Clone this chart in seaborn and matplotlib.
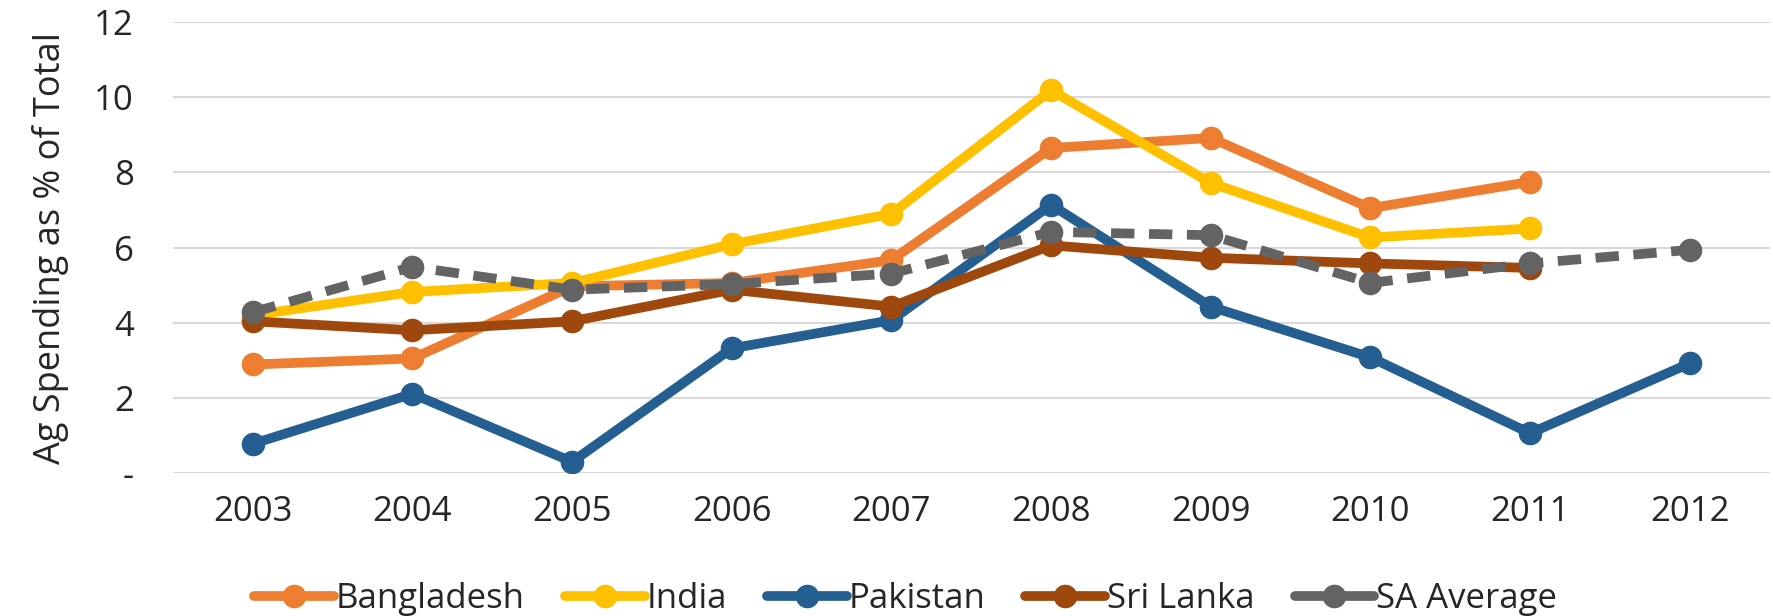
import pandas as pd
import numpy as np
import seaborn as sns
import matplotlib.pyplot as plt
from matplotlib.lines import Line2D

years = [2003, 2004, 2005, 2006, 2007, 2008, 2009, 2010, 2011, 2012]
bangladesh = [2.89, 3.05, 4.97, 5.06, 5.67, 8.65, 8.92, 7.05, 7.75, np.nan]
india = [4.2, 4.82, 5.06, 6.09, 6.9, 10.19, 7.72, 6.27, 6.51, np.nan]
pakistan = [0.78, 2.11, 0.30, 3.32, 4.07, 7.14, 4.43, 3.08, 1.06, 2.92]
sri_lanka = [4.04, 3.8, 4.04, 4.88, 4.43, 6.06, 5.73, 5.58, 5.46, np.nan]
sa_average = [4.28, 5.49, 4.88, 5.03, 5.31, 6.42, 6.33, 5.06, 5.58, 5.94]

series = {
    "Bangladesh": bangladesh,
    "India": india,
    "Pakistan": pakistan,
    "Sri Lanka": sri_lanka,
    "SA Average": sa_average,
}
colors = {
    "Bangladesh": "#ED7D31",
    "India": "#FFC000",
    "Pakistan": "#255E91",
    "Sri Lanka": "#9E480E",
    "SA Average": "#636363",
}

sns.set_style("white")
plt.rcParams['font.family'] = ['Open Sans', 'DejaVu Sans']

fig = plt.figure(figsize=(17.74, 6.16), dpi=100)
ax = fig.add_axes([0.0975, 0.232, 0.9, 0.732])

for name, vals in series.items():
    df = pd.DataFrame({"year": years, "value": vals}).dropna()
    sns.lineplot(data=df, x="year", y="value", ax=ax, color=colors[name],
                 linewidth=7, marker="o", markersize=17,
                 markeredgewidth=0, legend=False)
    if name == "SA Average":
        ax.get_lines()[-1].set_dashes((2.4, 1.5))

ax.set_xlim(2002.5, 2012.5)
ax.set_ylim(0, 12)
ax.set_xticks(years)
ax.set_xticklabels([str(y) for y in years])
ax.set_yticks([0, 2, 4, 6, 8, 10, 12])
ax.set_yticklabels(["-", "2", "4", "6", "8", "10", "12"])
ax.tick_params(axis="both", labelsize=25, length=0)
ax.tick_params(axis="x", pad=16)
ax.tick_params(axis="y", pad=28)
ax.grid(axis="y", color="#d9d9d9", linewidth=1.5)
ax.set_axisbelow(True)
for s in ax.spines.values():
    s.set_visible(False)
ax.set_xlabel("")
ax.set_ylabel("Ag Spending as % of Total", fontsize=26, labelpad=18)

# legend with solid handles
handles = [Line2D([], [], color=colors[n], linewidth=7, marker="o",
                  markersize=17, markeredgewidth=0) for n in series]
ax.legend(handles, list(series), loc="center", bbox_to_anchor=(0.459, -0.28),
          ncol=5, frameon=False, fontsize=25, handlelength=2.3,
          handletextpad=0.05, columnspacing=1.15)

plt.savefig("out.png", dpi=100)
